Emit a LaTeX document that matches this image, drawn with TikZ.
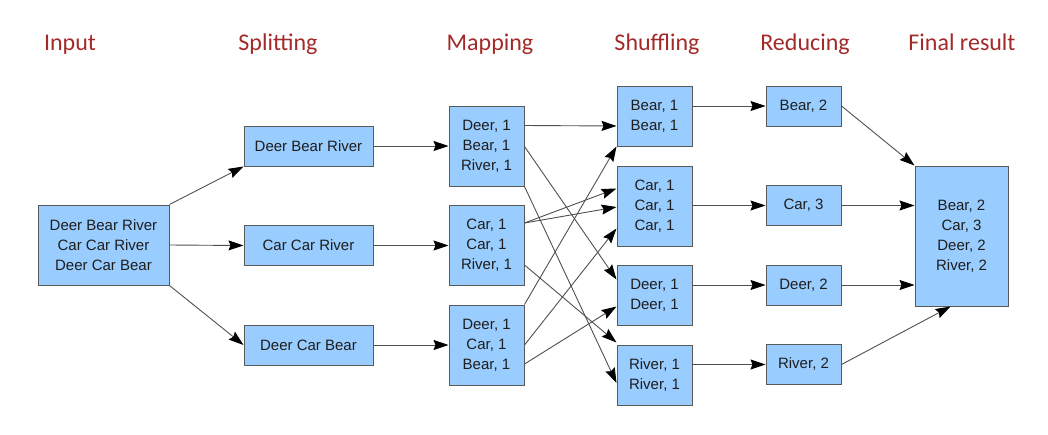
\documentclass[tikz,border=0pt]{standalone}
\usepackage{fontspec}
\setmainfont{Liberation Sans}
\newfontfamily\titlefont{Carlito}
\usetikzlibrary{arrows.meta}
\definecolor{boxfill}{RGB}{153,204,255}
\definecolor{boxline}{RGB}{90,90,90}
\definecolor{titlered}{RGB}{163,42,42}
\definecolor{linkgray}{RGB}{80,80,80}
\definecolor{boxtext}{RGB}{30,30,30}
\begin{document}
\begin{tikzpicture}[x=1pt,y=-1pt,
  box/.style={draw=boxline, line width=1pt, fill=boxfill, inner sep=0pt, align=center,
    text=boxtext, font=\fontsize{15}{20}\selectfont},
  ttl/.style={anchor=base, text=titlered, font=\titlefont\fontsize{24}{28}\selectfont},
  link/.style={draw=linkgray, line width=0.9pt, arrows={-Stealth[length=15pt,width=10pt,inset=2pt,fill=black,color=black]}}
]
\useasboundingbox (0,0) rectangle (1048,434);
% titles
\node[ttl] (t1) at (70,50) {Input};
\node[ttl] (t2) at (278,50) {Splitting};
\node[ttl] (t3) at (490,50) {Mapping};
\node[ttl] (t4) at (657,50) {Shuffling};
\node[ttl] (t5) at (805,50) {Reducing};
\node[ttl] (t6) at (962,50) {Final result};
% input
\node[box, minimum width=131pt, minimum height=80pt] (in) at (103.5,245) {Deer Bear River\\Car Car River\\Deer Car Bear};
% splitting
\node[box, minimum width=129pt, minimum height=40pt] (s1) at (308.5,146) {Deer Bear River};
\node[box, minimum width=129pt, minimum height=40pt] (s2) at (308.5,245.5) {Car Car River};
\node[box, minimum width=129pt, minimum height=40pt] (s3) at (308.5,345) {Deer Car Bear};
% mapping
\node[box, minimum width=75pt, minimum height=80pt] (m1) at (486.5,146) {Deer, 1\\Bear, 1\\River, 1};
\node[box, minimum width=75pt, minimum height=80pt] (m2) at (486.5,245.5) {Car, 1\\Car, 1\\River, 1};
\node[box, minimum width=75pt, minimum height=80pt] (m3) at (486.5,345) {Deer, 1\\Car, 1\\Bear, 1};
% shuffling
\node[box, minimum width=75pt, minimum height=60pt] (h1) at (654.5,116) {Bear, 1\\Bear, 1};
\node[box, minimum width=75pt, minimum height=80pt] (h2) at (654.5,206) {Car, 1\\Car, 1\\Car, 1};
\node[box, minimum width=75pt, minimum height=60pt] (h3) at (654.5,295) {Deer, 1\\Deer, 1};
\node[box, minimum width=75pt, minimum height=60pt] (h4) at (654.5,375) {River, 1\\River, 1};
% reducing
\node[box, minimum width=75pt, minimum height=40pt] (r1) at (803.5,106) {Bear, 2};
\node[box, minimum width=75pt, minimum height=40pt] (r2) at (803.5,205.5) {Car, 3};
\node[box, minimum width=75pt, minimum height=40pt] (r3) at (803.5,285) {Deer, 2};
\node[box, minimum width=75pt, minimum height=40pt] (r4) at (803.5,364.5) {River, 2};
% final
\node[box, minimum width=93pt, minimum height=140pt] (f) at (961.5,236) {Bear, 2\\Car, 3\\Deer, 2\\River, 2};
% input -> splitting
\draw[link] (in.north east) -- (s1.south west);
\draw[link] (in.east) -- (s2.west);
\draw[link] (in.south east) -- (s3.west);
% splitting -> mapping
\draw[link] (s1.east) -- (m1.west);
\draw[link] (s2.east) -- (m2.west);
\draw[link] (s3.east) -- (m3.west);
% mapping -> shuffling
\draw[link] ([yshift=-20pt]m1.north east) -- ([yshift=-10pt]h1.west);
\draw[link] ([yshift=-41pt]m1.north east) -- ([yshift=-15pt]h3.north west);
\draw[link] (m1.south east) -- ([yshift=-8pt]h4.west);
\draw[link] ([yshift=-18pt]m2.north east) -- ([yshift=-23pt]h2.north west);
\draw[link] ([yshift=-18pt]m2.north east) -- ([yshift=-1pt]h2.west);
\draw[link] ([yshift=-60pt]m2.north east) -- ([yshift=2pt]h4.north west);
\draw[link] (m3.north east) -- (h1.south west);
\draw[link] (m3.east) -- ([yshift=18pt]h2.south west);
\draw[link] ([yshift=-19pt]m3.east) -- ([yshift=19pt]h3.south west);
% shuffling -> reducing
\draw[link] (h1.east |- r1.west) -- (r1.west);
\draw[link] (h2.east |- r2.west) -- (r2.west);
\draw[link] (h3.east |- r3.west) -- (r3.west);
\draw[link] (h4.east |- r4.west) -- (r4.west);
% reducing -> final
\draw[link] (r1.east) -- (f.north west);
\draw[link] (r2.east) -- (f.west |- r2.east);
\draw[link] (r3.east) -- (f.west |- r3.east);
\draw[link] (r4.east) -- ([xshift=-11pt]f.south);
\end{tikzpicture}
\end{document}
